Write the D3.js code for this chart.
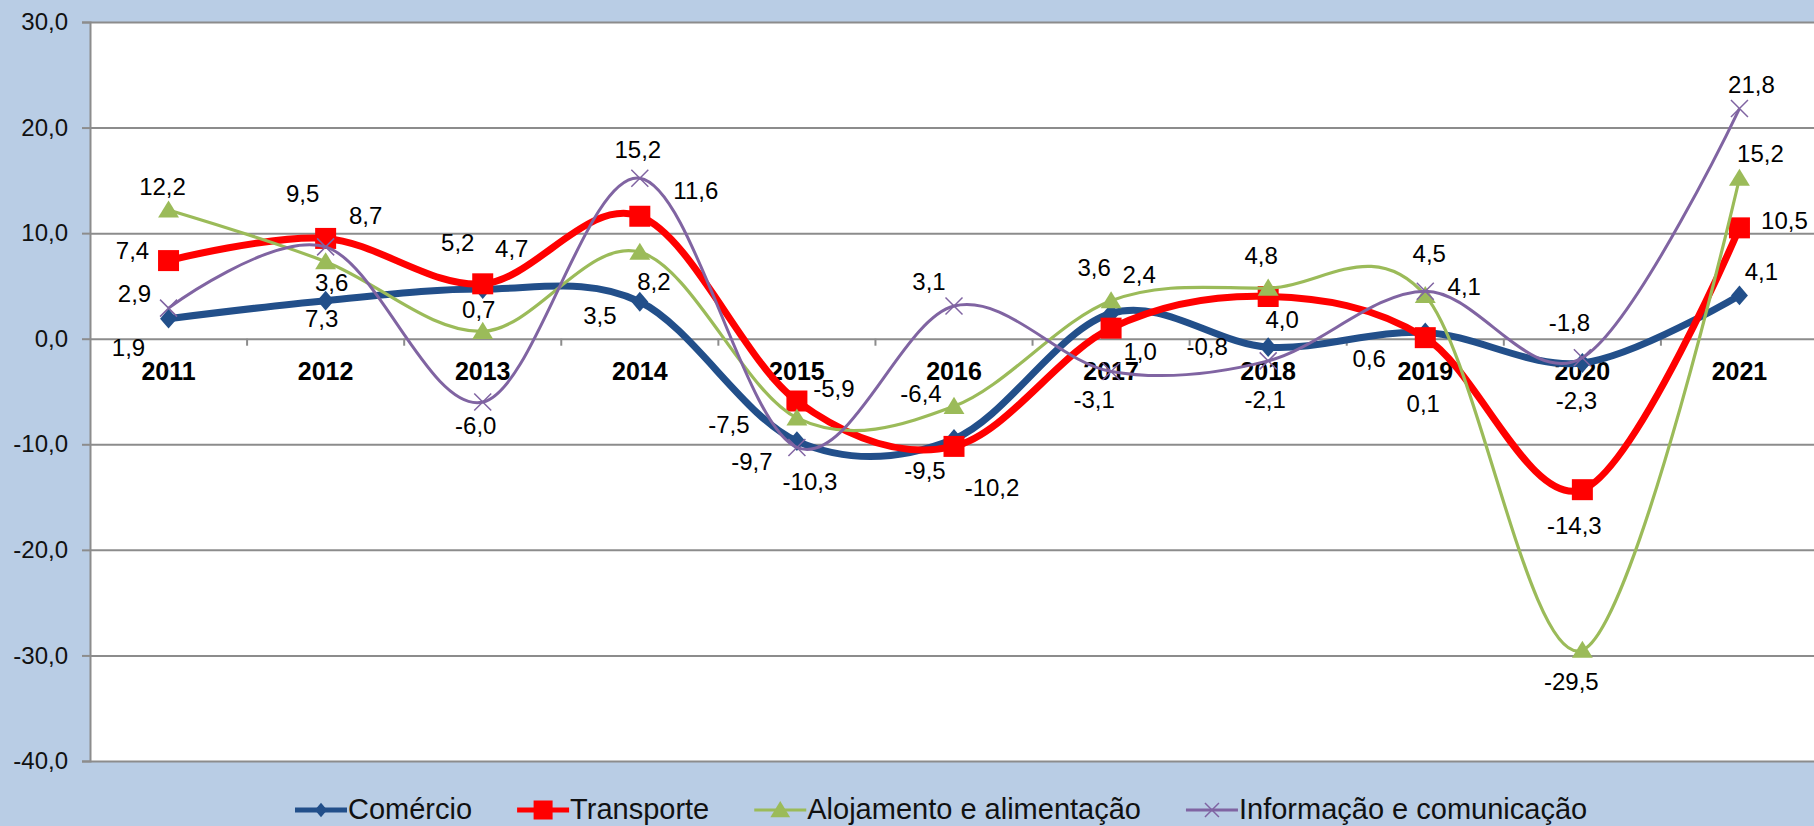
<!DOCTYPE html>
<html>
<head>
<meta charset="utf-8">
<script src="https://cdn.jsdelivr.net/npm/d3@7"></script>
<style>
  body { margin: 0; background: #b9cde5; }
  svg { display: block; font-family: "Liberation Sans", Arial, sans-serif; }
</style>
</head>
<body>
<svg id="chart" width="1814" height="826"></svg>
<script>
const years = ['2011', '2012', '2013', '2014', '2015', '2016', '2017', '2018', '2019', '2020', '2021'];
const comercio = [1.9, 3.6, 4.7, 3.5, -9.7, -9.5, 2.4, -0.8, 0.6, -2.3, 4.1];
const transporte = [7.4, 9.5, 5.2, 11.6, -5.9, -10.2, 1.0, 4.0, 0.1, -14.3, 10.5];
const alojamento = [12.2, 7.3, 0.7, 8.2, -7.5, -6.4, 3.6, 4.8, 4.1, -29.5, 15.2];
const informacao = [2.9, 8.7, -6.0, 15.2, -10.3, 3.1, -3.1, -2.1, 4.5, -1.8, 21.8];
const yTicks = [30, 20, 10, 0, -10, -20, -30, -40];
const seriesNames = ['Comércio', 'Transporte', 'Alojamento e alimentação', 'Informação e comunicação'];

// value labels were hand placed in the original: [dx, dy of baseline] from the marker
const comercioLabels = [[-40, 37], [6, -10], [29, -32], [-40, 22], [-45, 29], [-29, 40], [28, -30], [-61, 8], [-56, 35], [-6, 46], [22, -15]];
const transporteLabels = [[-36, -2], [-23, -36], [-25, -33], [56, -17], [37, -4], [38, 50], [29, 32], [14, 32], [-2, 74], [-8, 44], [45, 1]];
const alojamentoLabels = [[-6, -15], [-4, 65], [-4, -13], [14, 38], [-68, 15], [-33, -4], [-17, -25], [-7, -24], [39, 0], [-11, 40], [21, -16]];
const informacaoLabels = [[-34, -6], [40, -23], [-7, 32], [-2, -20], [13, 43], [-25, -16], [-17, 37], [-3, 47], [4, -29], [-13, -27], [12, -16]];

const series = [
    { name: seriesNames[0], values: comercio, labels: comercioLabels, color: '#224f8a', width: 7, legendWidth: 5, marker: 'diamond' },
    { name: seriesNames[1], values: transporte, labels: transporteLabels, color: '#ff0000', width: 7, legendWidth: 5, marker: 'square' },
    { name: seriesNames[2], values: alojamento, labels: alojamentoLabels, color: '#9bbb59', width: 3.2, legendWidth: 3, marker: 'triangle' },
    { name: seriesNames[3], values: informacao, labels: informacaoLabels, color: '#8064a2', width: 3, legendWidth: 3, marker: 'cross' }
];

const pt = d3.formatLocale({ decimal: ',', thousands: '.', grouping: [3], currency: ['R$', ''], minus: '-' });
const fmt = pt.format('.1f');

const svg = d3.select('#chart');
const plotLeft = 90, plotRight = 1818, plotTop = 22, plotBottom = 761;

const x = d3.scaleBand().domain(years).range([plotLeft, plotRight]);
const cx = d => x(d) + x.bandwidth() / 2;
const y = d3.scaleLinear().domain([-40, 30]).range([plotBottom, plotTop]);

svg.append('rect')
    .attr('x', plotLeft).attr('y', plotTop)
    .attr('width', plotRight - plotLeft).attr('height', plotBottom - plotTop)
    .attr('fill', '#fff');

// gridlines
svg.append('g')
    .attr('transform', `translate(${plotLeft},0)`)
    .call(d3.axisLeft(y).tickValues(yTicks).tickSize(-(plotRight - plotLeft)).tickFormat(''))
    .call(g => g.select('.domain').remove())
    .selectAll('line')
    .attr('stroke', '#8c8c8c')
    .attr('stroke-width', 2);

// y axis
const yAxis = svg.append('g')
    .attr('transform', `translate(${plotLeft},0)`)
    .call(d3.axisLeft(y).tickValues(yTicks).tickSize(8).tickPadding(14).tickFormat(fmt));
yAxis.select('.domain').attr('stroke', '#8c8c8c').attr('stroke-width', 2);
yAxis.selectAll('line').attr('stroke', '#8c8c8c').attr('stroke-width', 2);
yAxis.selectAll('text')
    .attr('font-size', 24)
    .attr('font-family', '"Liberation Sans", Arial, sans-serif')
    .attr('fill', '#111');

// x axis sits on the zero line, ticks between categories
const xAxis = svg.append('g').attr('transform', `translate(0,${y(0)})`);
xAxis.selectAll('line.cat')
    .data(years.slice(1))
    .join('line')
    .attr('class', 'cat')
    .attr('x1', d => x(d)).attr('x2', d => x(d))
    .attr('y1', 0).attr('y2', 7)
    .attr('stroke', '#8c8c8c')
    .attr('stroke-width', 2);
xAxis.selectAll('text')
    .data(years)
    .join('text')
    .attr('x', d => cx(d))
    .attr('y', 41)
    .attr('text-anchor', 'middle')
    .attr('font-size', 25)
    .attr('font-weight', 'bold')
    .attr('fill', '#000')
    .text(d => d);

function markerPath(type, s) {
    if (type === 'diamond') return `M0,${-s * 0.55}L${s * 0.47},0L0,${s * 0.55}L${-s * 0.47},0Z`;
    if (type === 'square') return `M${-s / 2},${-s / 2}h${s}v${s}h${-s}Z`;
    if (type === 'triangle') return `M0,${-s * 0.5}L${s * 0.55},${s * 0.4}L${-s * 0.55},${s * 0.4}Z`;
    return `M${-s / 2},${-s / 2}L${s / 2},${s / 2}M${s / 2},${-s / 2}L${-s / 2},${s / 2}`;
}
const markerSize = { diamond: 18, square: 21, triangle: 19, cross: 17 };

function drawMarker(sel, s, size) {
    sel.attr('d', markerPath(s.marker, size))
        .attr('fill', s.marker === 'cross' ? 'none' : s.color)
        .attr('stroke', s.color)
        .attr('stroke-width', s.marker === 'cross' ? 1.5 : 0);
}

const line = d3.line()
    .x((d, i) => cx(years[i]))
    .y(d => y(d))
    .curve(d3.curveCatmullRom.alpha(0));

series.forEach(s => {
    const g = svg.append('g');
    g.append('path')
        .attr('d', line(s.values))
        .attr('fill', 'none')
        .attr('stroke', s.color)
        .attr('stroke-width', s.width)
        .attr('stroke-linejoin', 'round');
    g.selectAll('path.marker')
        .data(s.values)
        .join('path')
        .attr('class', 'marker')
        .attr('transform', (d, i) => `translate(${cx(years[i])},${y(d)})`)
        .call(drawMarker, s, markerSize[s.marker]);
});

// value labels on top of all lines
series.forEach(s => {
    svg.append('g').selectAll('text')
        .data(s.values)
        .join('text')
        .attr('x', (d, i) => cx(years[i]) + s.labels[i][0])
        .attr('y', (d, i) => y(d) + s.labels[i][1])
        .attr('text-anchor', 'middle')
        .attr('font-size', 24)
        .attr('fill', '#000')
        .text(d => fmt(d));
});

// legend
const legend = svg.append('g').attr('transform', 'translate(295,810)');
let lx = 0;
series.forEach(s => {
    const item = legend.append('g').attr('transform', `translate(${lx},0)`);
    item.append('line')
        .attr('x1', 0).attr('x2', 52)
        .attr('stroke', s.color)
        .attr('stroke-width', s.legendWidth);
    item.append('path')
        .attr('transform', 'translate(26,0)')
        .call(drawMarker, s, { diamond: 13, square: 19, triangle: 18, cross: 14 }[s.marker]);
    const t = item.append('text')
        .attr('x', 53)
        .attr('y', 9)
        .attr('font-size', 29)
        .attr('fill', '#111')
        .text(s.name);
    lx += 53 + t.node().getComputedTextLength() + 45;
});
</script>
</body>
</html>
